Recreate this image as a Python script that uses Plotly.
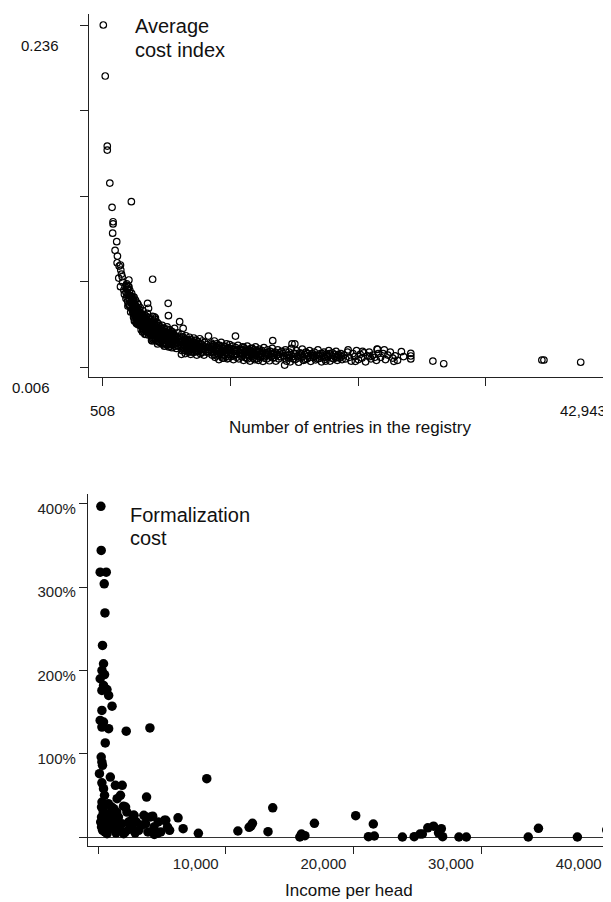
import plotly.graph_objects as go

# ---------------- Top panel: average cost index vs number of entries ----------------
entries = [
    600, 760, 929, 929, 1140, 2925, 1325, 4690,
    1375, 1410, 1410, 1577, 1712, 1745, 1771, 1914, 2024, 2049, 2108, 2167, 1880, 2024, 2301, 2722, 2200, 2400, 2350, 2600, 2480,
    2500, 2520, 2560, 2600, 2620, 2650, 2680, 2700, 2730, 2760, 2790, 2820, 2850, 2880, 2900, 2930, 2960, 2990, 2540, 2640, 2720, 2800, 2870, 2950,
    3010, 3030, 3050, 3080, 3100, 3120, 3150, 3170, 3200, 3220, 3250, 3270, 3300, 3320, 3350, 3380, 3400, 3420, 3450, 3470, 3500, 3520, 3550, 3570, 3600, 3620, 3650, 3680, 3700, 3060, 3180, 3310, 3440, 3560, 3660,
    3020, 3070, 3110, 3140, 3190, 3230, 3260, 3290, 3340, 3370, 3410, 3460, 3490, 3530, 3580, 3610, 3640, 3690, 3040, 3130, 3240, 3360, 3480, 3590, 3690,
    3720, 3750, 3780, 3800, 3830, 3860, 3880, 3900, 3930, 3960, 3980, 4000, 4030, 4060, 4080, 4100, 4130, 4160, 4180, 4200, 4230, 4260, 4280, 4300, 4330, 4360, 4380, 4400, 4430, 4460, 4480, 4500, 3850, 4050, 4250,
    3710, 3760, 3790, 3820, 3870, 3910, 3940, 3990, 4020, 4070, 4110, 4140, 4190, 4220, 4270, 4310, 4340, 4390, 4420, 4470, 3740, 3950, 4150, 4350, 4490,
    4270, 4350, 4830, 5980, 6000, 6930, 7220, 9320, 11560, 14650, 16250, 16480, 7080, 15640, 23350,
    4520, 4540, 4570, 4600, 4620, 4650, 4680, 4700, 4730, 4760, 4790, 4810, 4840, 4870, 4900, 4920, 4950, 4980, 5010, 5040, 5060, 5090, 5120, 5150, 5170, 5200, 5230, 5260, 5290, 5320, 5350, 5380, 4660, 4880, 5100,
    4510, 4560, 4590, 4640, 4690, 4720, 4770, 4820, 4850, 4890, 4940, 4970, 5020, 5050, 5080, 5130, 5160, 5210, 5240, 5280, 5310, 5340, 5370, 5395, 4600,
    5420, 5450, 5490, 5520, 5560, 5600, 5630, 5670, 5700, 5740, 5780, 5810, 5850, 5890, 5920, 5960, 6000, 6030, 6070, 6110, 6140, 6180, 6220, 6250, 6290, 6330, 6360, 6400, 6440, 6470, 6510, 6550, 6590, 6620, 6660, 6700, 6740, 6780, 6820, 6900,
    5410, 5470, 5510, 5540, 5580, 5620, 5650, 5690, 5720, 5760, 5800, 5830, 5870, 5910, 5940, 5980, 6020, 6050, 6090, 6130, 6160, 6200, 6240, 6270, 6310, 6350, 6420, 6490, 6570, 6680,
    7000, 7040, 7100, 7150, 7200, 7250, 7300, 7350, 7400, 7450, 7500, 7550, 7600, 7650, 7700, 7750, 7800, 7850, 7900, 7950, 8000, 8050, 8100, 8150, 8200, 8250, 8300, 8350, 8400, 8450, 8500, 8550, 8600, 8650, 8700, 8750, 8800, 8850, 8900, 8950, 9000, 9100, 9200, 9300, 9400,
    7020, 7080, 7130, 7180, 7230, 7280, 7330, 7380, 7430, 7480, 7530, 7580, 7630, 7680, 7730, 7780, 7830, 7880, 7930, 7980, 8030, 8080, 8130, 8180, 8230, 8280, 8330, 8430, 8530, 8630, 8730, 8830, 8930, 9050, 9250,
    9500, 9560, 9620, 9690, 9750, 9810, 9870, 9940, 10000, 10060, 10130, 10190, 10250, 10320, 10380, 10440, 10510, 10570, 10630, 10700, 10760, 10820, 10890, 10950, 11010, 11080, 11140, 11200, 11270, 11330, 11390, 11460, 11520, 11580, 11650, 11710, 11770, 11840, 11900, 11960,
    9530, 9590, 9650, 9720, 9780, 9840, 9910, 9970, 10030, 10100, 10160, 10220, 10290, 10350, 10410, 10480, 10540, 10600, 10670, 10730, 10790, 10860, 10920, 10980, 11050, 11110, 11230, 11360, 11490, 11620,
    12000, 12080, 12150, 12230, 12310, 12380, 12460, 12540, 12610, 12690, 12770, 12840, 12920, 13000, 13070, 13150, 13230, 13300, 13380, 13460, 13530, 13610, 13690, 13760, 13840, 13920, 13990, 14070, 14150, 14220, 14300, 14380, 14450, 14530, 14610, 14680, 14760, 14840, 14910, 14990, 15070, 15140, 15220, 15300, 15400,
    12040, 12120, 12200, 12270, 12350, 12420, 12500, 12580, 12650, 12730, 12810, 12880, 12960, 13040, 13110, 13190, 13270, 13340, 13420, 13500, 13570, 13650, 13800, 13950, 14110, 14260, 14420, 14570, 14800, 15100,
    15500, 15600, 15700, 15800, 15900, 16000, 16100, 16200, 16300, 16400, 16500, 16600, 16700, 16800, 16900, 17000, 17100, 17200, 17300, 17400, 17500, 17600, 17700, 17800, 17900, 18000, 18100, 18200, 18300, 18400, 18500, 18600, 18700, 18800, 18900, 19000, 19100, 19200, 19300, 19400, 19500, 19600, 19700, 19800, 19900, 20000, 20100, 20200, 20300, 20400,
    15550, 15750, 15950, 16150, 16350, 16550, 16750, 16950, 17150, 17350, 17550, 17750, 17950, 18150, 18350, 18550, 18750, 18950, 19150, 19350, 19550, 19750, 19950, 20150, 20350, 16050, 17050, 18050, 19050, 20050,
    20550, 20700, 20850, 21000, 21150, 21300, 21450, 21600, 21750, 21900, 22050, 22200, 22350, 22500, 22650, 22800, 22950, 23100, 23250, 23400, 20900, 21500, 22100, 22700, 23300,
    23600, 23800, 24000, 24200, 24400, 24600, 24800, 25000, 25320, 25500, 26100, 26100, 26100, 23900, 24700,
    27930, 28830, 36970, 37140, 40190, 42943,
]
cost_index = [
    0.236, 0.2017, 0.1546, 0.1519, 0.1297, 0.1172, 0.1134, 0.0650,
    0.0960, 0.1037, 0.1022, 0.0845, 0.0903, 0.0761, 0.0806, 0.0739, 0.0746, 0.0712, 0.0685, 0.0667, 0.0658, 0.0600, 0.0578, 0.0645, 0.0630, 0.0600, 0.0550, 0.0590, 0.0520,
    0.0560, 0.0610, 0.0530, 0.0580, 0.0500, 0.0545, 0.0600, 0.0480, 0.0520, 0.0560, 0.0470, 0.0510, 0.0540, 0.0460, 0.0495, 0.0530, 0.0450, 0.0485, 0.0620, 0.0470, 0.0600, 0.0575, 0.0430, 0.0555,
    0.0520, 0.0470, 0.0440, 0.0500, 0.0420, 0.0460, 0.0530, 0.0410, 0.0480, 0.0440, 0.0400, 0.0510, 0.0430, 0.0390, 0.0460, 0.0420, 0.0380, 0.0490, 0.0410, 0.0370, 0.0440, 0.0400, 0.0360, 0.0450, 0.0390, 0.0350, 0.0420, 0.0380, 0.0345, 0.0530, 0.0370, 0.0470, 0.0360, 0.0415, 0.0460,
    0.0490, 0.0455, 0.0395, 0.0505, 0.0435, 0.0375, 0.0465, 0.0415, 0.0355, 0.0445, 0.0400, 0.0345, 0.0480, 0.0385, 0.0425, 0.0340, 0.0395, 0.0365, 0.0430, 0.0480, 0.0420, 0.0355, 0.0390, 0.0370, 0.0405,
    0.0420, 0.0380, 0.0340, 0.0400, 0.0360, 0.0320, 0.0440, 0.0370, 0.0330, 0.0390, 0.0350, 0.0310, 0.0410, 0.0360, 0.0320, 0.0380, 0.0340, 0.0300, 0.0400, 0.0350, 0.0310, 0.0370, 0.0330, 0.0290, 0.0390, 0.0340, 0.0300, 0.0360, 0.0320, 0.0285, 0.0345, 0.0310, 0.0295, 0.0280, 0.0420,
    0.0395, 0.0350, 0.0415, 0.0330, 0.0375, 0.0405, 0.0345, 0.0370, 0.0330, 0.0390, 0.0355, 0.0320, 0.0370, 0.0335, 0.0300, 0.0350, 0.0315, 0.0380, 0.0290, 0.0330, 0.0310, 0.0300, 0.0280, 0.0275, 0.0360,
    0.0488, 0.0455, 0.0398, 0.0488, 0.0405, 0.0365, 0.0320, 0.0268, 0.0268, 0.0237, 0.0215, 0.0215, 0.0145, 0.0073, 0.0179,
    0.0380, 0.0330, 0.0290, 0.0360, 0.0310, 0.0260, 0.0400, 0.0340, 0.0280, 0.0370, 0.0300, 0.0250, 0.0350, 0.0320, 0.0270, 0.0390, 0.0300, 0.0240, 0.0340, 0.0290, 0.0360, 0.0260, 0.0310, 0.0230, 0.0350, 0.0280, 0.0320, 0.0250, 0.0300, 0.0225, 0.0330, 0.0270, 0.0235, 0.0380, 0.0215,
    0.0350, 0.0300, 0.0270, 0.0330, 0.0295, 0.0245, 0.0355, 0.0315, 0.0260, 0.0290, 0.0335, 0.0250, 0.0310, 0.0275, 0.0240, 0.0340, 0.0265, 0.0295, 0.0230, 0.0310, 0.0260, 0.0285, 0.0245, 0.0300, 0.0240,
    0.0310, 0.0260, 0.0340, 0.0220, 0.0290, 0.0250, 0.0320, 0.0200, 0.0280, 0.0240, 0.0300, 0.0215, 0.0270, 0.0330, 0.0230, 0.0260, 0.0290, 0.0195, 0.0250, 0.0310, 0.0220, 0.0275, 0.0240, 0.0300, 0.0190, 0.0260, 0.0230, 0.0285, 0.0210, 0.0250, 0.0320, 0.0200, 0.0270, 0.0235, 0.0185, 0.0260, 0.0225, 0.0290, 0.0200, 0.0245,
    0.0280, 0.0240, 0.0300, 0.0265, 0.0210, 0.0285, 0.0255, 0.0300, 0.0220, 0.0275, 0.0245, 0.0315, 0.0210, 0.0285, 0.0250, 0.0225, 0.0270, 0.0235, 0.0290, 0.0200, 0.0260, 0.0225, 0.0280, 0.0210, 0.0250, 0.0295, 0.0240, 0.0270, 0.0215, 0.0240,
    0.0250, 0.0200, 0.0280, 0.0170, 0.0230, 0.0260, 0.0190, 0.0220, 0.0150, 0.0270, 0.0210, 0.0180, 0.0240, 0.0160, 0.0225, 0.0260, 0.0190, 0.0145, 0.0215, 0.0240, 0.0175, 0.0200, 0.0255, 0.0160, 0.0220, 0.0185, 0.0240, 0.0140, 0.0205, 0.0230, 0.0170, 0.0195, 0.0250, 0.0150, 0.0215, 0.0180, 0.0235, 0.0160, 0.0200, 0.0140, 0.0225, 0.0175, 0.0210, 0.0155, 0.0190,
    0.0225, 0.0265, 0.0195, 0.0240, 0.0210, 0.0175, 0.0250, 0.0200, 0.0230, 0.0185, 0.0245, 0.0205, 0.0170, 0.0235, 0.0200, 0.0215, 0.0245, 0.0180, 0.0200, 0.0160, 0.0225, 0.0190, 0.0210, 0.0240, 0.0170, 0.0205, 0.0190, 0.0165, 0.0215, 0.0185, 0.0160, 0.0200, 0.0175, 0.0195, 0.0165,
    0.0180, 0.0220, 0.0140, 0.0200, 0.0165, 0.0235, 0.0125, 0.0190, 0.0215, 0.0150, 0.0175, 0.0110, 0.0205, 0.0160, 0.0225, 0.0135, 0.0185, 0.0120, 0.0200, 0.0155, 0.0170, 0.0215, 0.0115, 0.0190, 0.0145, 0.0210, 0.0160, 0.0130, 0.0180, 0.0200, 0.0110, 0.0165, 0.0140, 0.0190, 0.0125, 0.0175, 0.0205, 0.0115, 0.0155, 0.0180,
    0.0195, 0.0160, 0.0210, 0.0175, 0.0145, 0.0200, 0.0170, 0.0135, 0.0190, 0.0205, 0.0140, 0.0180, 0.0150, 0.0195, 0.0170, 0.0120, 0.0165, 0.0185, 0.0140, 0.0195, 0.0130, 0.0160, 0.0175, 0.0120, 0.0170, 0.0185, 0.0150, 0.0140, 0.0175, 0.0150,
    0.0170, 0.0130, 0.0195, 0.0105, 0.0155, 0.0180, 0.0120, 0.0200, 0.0140, 0.0165, 0.0100, 0.0185, 0.0130, 0.0150, 0.0175, 0.0110, 0.0195, 0.0140, 0.0160, 0.0105, 0.0180, 0.0125, 0.0150, 0.0170, 0.0098, 0.0190, 0.0135, 0.0155, 0.0115, 0.0175, 0.0145, 0.0102, 0.0165, 0.0130, 0.0185, 0.0120, 0.0150, 0.0160, 0.0100, 0.0140, 0.0175, 0.0115, 0.0155, 0.0130, 0.0165,
    0.0150, 0.0175, 0.0140, 0.0190, 0.0125, 0.0165, 0.0145, 0.0115, 0.0175, 0.0135, 0.0160, 0.0145, 0.0185, 0.0120, 0.0160, 0.0140, 0.0170, 0.0115, 0.0135, 0.0165, 0.0145, 0.0130, 0.0160, 0.0120, 0.0145, 0.0160, 0.0135, 0.0150, 0.0125, 0.0145,
    0.0150, 0.0120, 0.0175, 0.0100, 0.0140, 0.0160, 0.0095, 0.0185, 0.0130, 0.0150, 0.0110, 0.0170, 0.0135, 0.0092, 0.0155, 0.0125, 0.0180, 0.0105, 0.0145, 0.0160, 0.0115, 0.0135, 0.0170, 0.0098, 0.0150, 0.0125, 0.0160, 0.0108, 0.0140, 0.0175, 0.0118, 0.0150, 0.0095, 0.0135, 0.0160, 0.0112, 0.0145, 0.0128, 0.0170, 0.0100, 0.0140, 0.0155, 0.0115, 0.0130, 0.0165, 0.0105, 0.0145, 0.0120, 0.0150, 0.0110,
    0.0135, 0.0160, 0.0120, 0.0140, 0.0115, 0.0150, 0.0120, 0.0140, 0.0130, 0.0110, 0.0150, 0.0125, 0.0140, 0.0130, 0.0115, 0.0135, 0.0150, 0.0125, 0.0135, 0.0150, 0.0120, 0.0145, 0.0125, 0.0135, 0.0130, 0.0125, 0.0150, 0.0135, 0.0100, 0.0125,
    0.0140, 0.0115, 0.0160, 0.0125, 0.0100, 0.0150, 0.0130, 0.0170, 0.0110, 0.0145, 0.0120, 0.0155, 0.0095, 0.0135, 0.0160, 0.0115, 0.0140, 0.0125, 0.0105, 0.0150, 0.0175, 0.0098, 0.0165, 0.0130, 0.0180,
    0.0125, 0.0150, 0.0110, 0.0140, 0.0160, 0.0120, 0.0135, 0.0105, 0.0163, 0.0130, 0.0152, 0.0134, 0.0114, 0.0175, 0.0098,
    0.0100, 0.0082, 0.0107, 0.0107, 0.0092, 0.0114,
]
top_xticks = [508, 11116.75, 21725.5, 32334.25, 42943]
top_yticks = [0.006, 0.0635, 0.121, 0.1785, 0.236]

# ---------------- Bottom panel: formalization cost vs income per head ----------------
income = [
    215, 240, 160, 636, 477, 533, 342, 422, 300, 500, 160, 422, 690, 294, 822, 1090, 294, 159, 422, 294, 822, 2200, 4057,
    557, 239, 294, 342, 103, 955, 8512, 294, 1352, 1885, 422, 1750, 1488, 501, 3794, 422, 1217, 2148, 2808, 3739, 4272,
    5195, 6260, 6658, 7852,
    265, 1060, 1990, 265, 795, 1590, 2785, 3580, 4110, 5300, 265, 530, 1190, 1725, 2120, 2650, 3180, 3715, 4375, 4640,
    4905, 5435, 795, 1325, 1855, 2385, 400, 1455, 2250,
    350, 700, 900, 1000, 1400, 1600, 2000, 2400, 2900, 3400, 3900, 4400, 600, 1100, 300, 800, 1500, 2600, 3000, 200,
    450, 4700, 5600,
    10950, 11830, 12090, 11960, 13310, 13680, 15800, 15930, 16200, 16945, 20180, 21560, 21180, 21640, 23840, 24765,
    25220, 25400, 25830, 26280, 26890, 26670, 26990, 28270, 28850, 33700, 34500, 37550, 39850,
]
formal_cost = [
    397, 344, 318, 318, 304, 269, 230, 208, 200, 195, 190, 182, 177, 176, 170, 157, 152, 140, 138, 132, 130, 127, 131,
    113, 96, 90, 86, 76, 72, 70, 65, 62, 62, 58, 50, 46, 50, 48, 36, 34, 36, 26, 24, 25,
    20, 23, 10, 4.4,
    36, 36, 37, 24, 28, 24, 26, 26, 24, 20, 12, 6, 12, 8, 6, 12, 8, 16, 12, 4.4,
    6, 12, 18, 20, 16, 18, 30, 30, 30,
    8, 4, 10, 22, 5, 14, 4, 9, 5, 14, 6, 3, 15, 26, 42, 40, 10, 20, 18, 18,
    22, 18, 8,
    7.2, 11.6, 16.4, 13, 6.4, 35, 0, 3.6, 1.6, 16.4, 25.6, 15.6, 0.4, 1.2, 0, 0.4,
    3.6, 3.6, 11, 13, 10, 5, 0.4, 0, 0, 0, 10.4, 0, 8.4,
]
bot_xticks = [0, 10000, 20000, 30000, 40000]
bot_xlabels = ["", "10,000", "20,000", "30,000", "40,000"]
bot_yticks = [0, 100, 200, 300, 400]
bot_ylabels = ["", "100%", "200%", "300%", "400%"]

FONT = "Liberation Sans, Arial, sans-serif"
AX = "#222222"
W, H = 611, 902
OFF = 8  # the page body adds an 8px margin around the plot


def px(x):
    return (x - OFF) / W


def py(y):
    return 1 - (y - OFF) / H


fig = go.Figure()
fig.add_trace(go.Scatter(
    x=entries, y=cost_index, mode="markers", xaxis="x", yaxis="y",
    marker=dict(symbol="circle-open", size=6.5, color="black", line=dict(width=1.2, color="black")),
    showlegend=False, hoverinfo="x+y",
))
fig.add_trace(go.Scatter(
    x=income, y=formal_cost, mode="markers", xaxis="x2", yaxis="y2",
    marker=dict(symbol="circle", size=9.5, color="black", line=dict(width=0)),
    showlegend=False, hoverinfo="x+y",
))

common = dict(showgrid=False, showline=True, linecolor=AX, linewidth=1.3,
              ticks="outside", tickcolor=AX, tickwidth=1.3, ticklen=8,
              tickfont=dict(family=FONT, size=15, color="#222"))

fig.update_layout(
    width=W, height=H, margin=dict(l=0, r=0, t=0, b=0),
    paper_bgcolor="white", plot_bgcolor="white",
    font=dict(family=FONT, color="#222"),
    xaxis=dict(domain=[px(89), 1], range=[-587, 43366], anchor="y",
               tickvals=top_xticks, showticklabels=False, zeroline=False, **common),
    yaxis=dict(domain=[py(377), py(14)], range=[-0.000725, 0.2434], anchor="x",
               tickvals=top_yticks, showticklabels=False, zeroline=False, **common),
    xaxis2=dict(domain=[px(88), 1], range=[-795, 40811], anchor="y2",
                tickvals=bot_xticks, ticktext=bot_xlabels, zeroline=False,
                ticklabelshift=-30, ticklabelstandoff=-3, **common),
    yaxis2=dict(domain=[py(846), py(494)], range=[-10.8, 411.8], anchor="x2",
                tickvals=bot_yticks, ticktext=bot_ylabels, zeroline=True,
                zerolinecolor="#333", zerolinewidth=1.3, ticklabelshift=5, **common),
)
fig.update_xaxes(ticklen=7, selector=dict(anchor="y2"))

ann = [
    dict(text="Average", x=px(133), y=py(26), xanchor="left", yanchor="middle", size=20),
    dict(text="cost index", x=px(133), y=py(50), xanchor="left", yanchor="middle", size=20),
    dict(text="Formalization", x=px(128), y=py(515), xanchor="left", yanchor="middle", size=20),
    dict(text="cost", x=px(128), y=py(538), xanchor="left", yanchor="middle", size=20),
    dict(text="0.236", x=px(40), y=py(45), xanchor="center", yanchor="middle", size=15),
    dict(text="0.006", x=px(30.5), y=py(387), xanchor="center", yanchor="middle", size=15),
    dict(text="508", x=px(102), y=py(410), xanchor="center", yanchor="middle", size=15),
    dict(text="42,943", x=px(608), y=py(410), xanchor="right", yanchor="middle", size=15),
    dict(text="Number of entries in the registry", x=px(350), y=py(428), xanchor="center", yanchor="middle", size=17),
    dict(text="Income per head", x=px(349), y=py(890), xanchor="center", yanchor="middle", size=17),
]
for a in ann:
    fig.add_annotation(text=a["text"], x=a["x"], y=a["y"], xref="paper", yref="paper",
                       xanchor=a["xanchor"], yanchor=a["yanchor"], showarrow=False,
                       font=dict(family=FONT, size=a["size"], color="#111"))

fig.write_html("out.html")
